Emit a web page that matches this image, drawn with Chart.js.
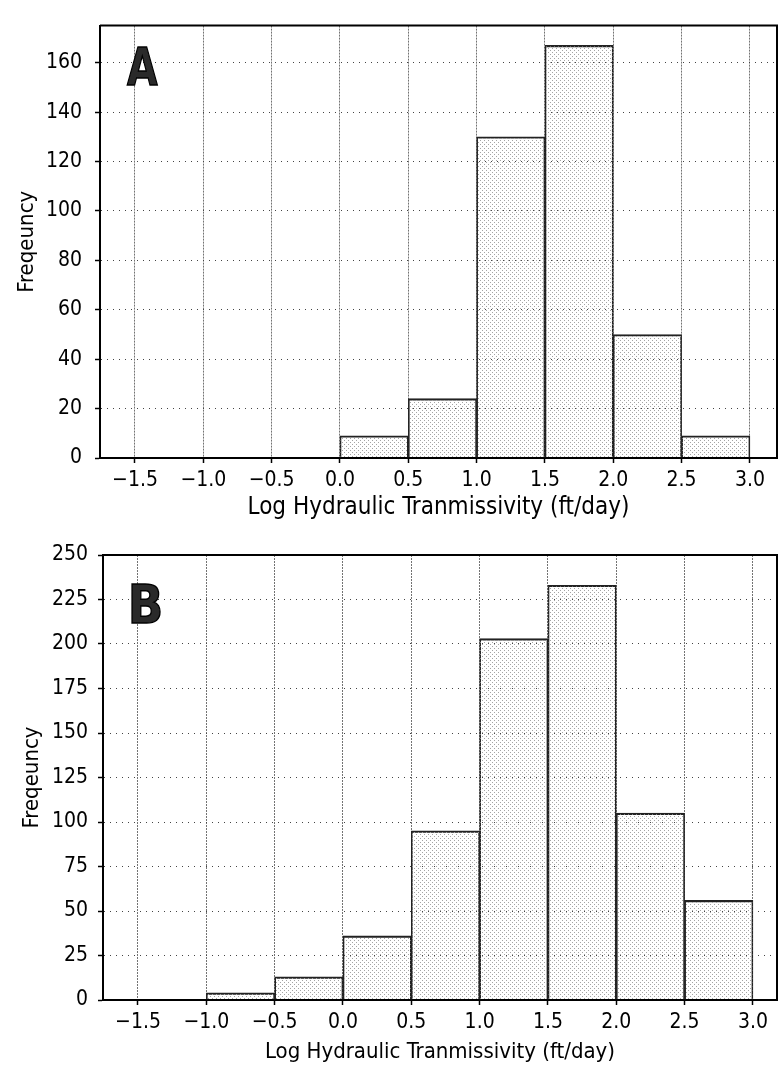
<!DOCTYPE html>
<html>
<head>
<meta charset="utf-8">
<script src="https://cdn.jsdelivr.net/npm/chart.js@4.4.0/dist/chart.umd.min.js"></script>
<style>
  body { margin: 0; background: #fff; }
  #wrapA { position: absolute; left: 0; top: 0; width: 778px; height: 530px; }
  #wrapB { position: absolute; left: 0; top: 530px; width: 778px; height: 535px; }
</style>
</head>
<body>
<div id="wrapA"><canvas id="histA"></canvas></div>
<div id="wrapB"><canvas id="histB"></canvas></div>
<script>
// bin centres (log T, bins 0.5 wide) and counts
var binCentersA = [0.25, 0.75, 1.25, 1.75, 2.25, 2.75];
var countsA = [9, 24, 130, 167, 50, 9];

var binCentersB = [-0.75, -0.25, 0.25, 0.75, 1.25, 1.75, 2.25, 2.75];
var countsB = [4, 13, 36, 95, 203, 233, 105, 56];

var xLabel = 'Log Hydraulic Tranmissivity (ft/day)';
var yLabel = 'Freqeuncy';

var FONT = "'DejaVu Sans Condensed', 'DejaVu Sans', sans-serif";

document.addEventListener('DOMContentLoaded', function () {

    // grey stipple used for the bar fill
    function makeStipple() {
        var c = document.createElement('canvas');
        c.width = 4;
        c.height = 4;
        var g = c.getContext('2d');
        g.fillStyle = '#a4a4a4';
        g.fillRect(0, 0, 1, 1);
        g.fillRect(2, 2, 1, 1);
        return g.createPattern(c, 'repeat');
    }
    var stipple = makeStipple();

    // top/right frame and the big panel letter
    var panelPlugin = {
        id: 'panel',
        afterDraw: function (chart, args, opts) {
            var ctx = chart.ctx;
            var a = chart.chartArea;
            ctx.save();
            ctx.strokeStyle = '#000';
            ctx.lineWidth = 2;
            ctx.beginPath();
            ctx.moveTo(a.left, a.top);
            ctx.lineTo(a.right, a.top);
            ctx.lineTo(a.right, a.bottom);
            ctx.stroke();

            var x = chart.scales.x.getPixelForValue(opts.x);
            var y = chart.scales.y.getPixelForValue(opts.y);
            ctx.translate(x, y);
            ctx.scale(opts.squeeze, 1);
            ctx.font = 'bold ' + opts.size + 'px DejaVu Sans';
            ctx.textBaseline = 'alphabetic';
            ctx.fillStyle = '#2a2a2a';
            ctx.fillText(opts.text, 0, 0);
            ctx.lineWidth = 1.5;
            ctx.strokeStyle = '#000';
            ctx.strokeText(opts.text, 0, 0);
            ctx.restore();
        }
    };

    function fmtX(v) {
        var s = Math.abs(v).toFixed(1);
        return v < 0 ? '\u2212' + s : s;
    }

    function makeHist(id, centers, counts, cfg) {
        var ctx = document.getElementById(id).getContext('2d');
        return new Chart(ctx, {
            type: 'bar',
            data: {
                datasets: [{
                    data: centers.map(function (c, i) { return { x: c, y: counts[i] }; }),
                    backgroundColor: stipple,
                    borderColor: '#222',
                    borderWidth: { top: 1.5, left: 1, right: 1, bottom: 0 },
                    borderSkipped: 'start',
                    barPercentage: 1,
                    categoryPercentage: 1
                }]
            },
            options: {
                responsive: true,
                maintainAspectRatio: false,
                animation: false,
                layout: { padding: { top: cfg.padTop, right: 1, left: 0, bottom: 0 } },
                plugins: {
                    legend: { display: false },
                    tooltip: { enabled: false },
                    panel: cfg.letter
                },
                scales: {
                    x: {
                        type: 'linear',
                        min: cfg.xMin,
                        max: cfg.xMax,
                        offset: false,
                        afterFit: function (scale) { scale.height = cfg.xHeight; },
                        grid: {
                            offset: false,
                            color: 'rgba(0,0,0,0.55)',
                            lineWidth: 1,
                            tickLength: 5,
                            tickColor: '#000',
                            tickWidth: 1.5,
                            tickBorderDash: []
                        },
                        border: { color: '#000', width: 2, dash: [2, 1] },
                        ticks: {
                            stepSize: 0.5,
                            includeBounds: false,
                            autoSkip: false,
                            maxRotation: 0,
                            padding: 5,
                            color: '#000',
                            font: { family: FONT, size: 21 },
                            callback: function (v) { return fmtX(v); }
                        },
                        title: {
                            display: true,
                            text: xLabel,
                            color: '#000',
                            font: { family: FONT, size: cfg.xTitleSize },
                            padding: { top: 0, bottom: cfg.xTitlePad }
                        }
                    },
                    y: {
                        min: 0,
                        max: cfg.yMax,
                        afterFit: function (scale) { scale.width = cfg.yWidth; },
                        grid: {
                            color: '#444',
                            lineWidth: 1,
                            tickLength: 5,
                            tickColor: '#000',
                            tickWidth: 1.5,
                            tickBorderDash: []
                        },
                        border: { color: '#000', width: 2, dash: [1, 5] },
                        ticks: {
                            stepSize: cfg.yStep,
                            includeBounds: false,
                            padding: cfg.yTickPad,
                            color: '#000',
                            font: { family: FONT, size: 21 }
                        },
                        title: {
                            display: true,
                            text: yLabel,
                            color: '#000',
                            font: { family: FONT, size: 22 },
                            padding: { top: cfg.yTitlePad, bottom: 0 }
                        }
                    }
                }
            },
            plugins: [panelPlugin]
        });
    }

    makeHist('histA', binCentersA, countsA, {
        padTop: 15, xMin: -1.756, xMax: 3.198, xHeight: 72, yWidth: 100,
        yMax: 175, yStep: 20, yTickPad: 13, xTitleSize: 24, xTitlePad: 8, yTitlePad: 14,
        letter: { text: 'A', x: -1.558, y: 151, size: 52, squeeze: 0.76 }
    });

    makeHist('histB', binCentersB, countsB, {
        padTop: 25, xMin: -1.756, xMax: 3.176, xHeight: 65, yWidth: 103,
        yMax: 250, yStep: 25, yTickPad: 10, xTitleSize: 22, xTitlePad: 0, yTitlePad: 19,
        letter: { text: 'B', x: -1.575, y: 212, size: 53, squeeze: 0.88 }
    });
});
</script>
</body>
</html>
